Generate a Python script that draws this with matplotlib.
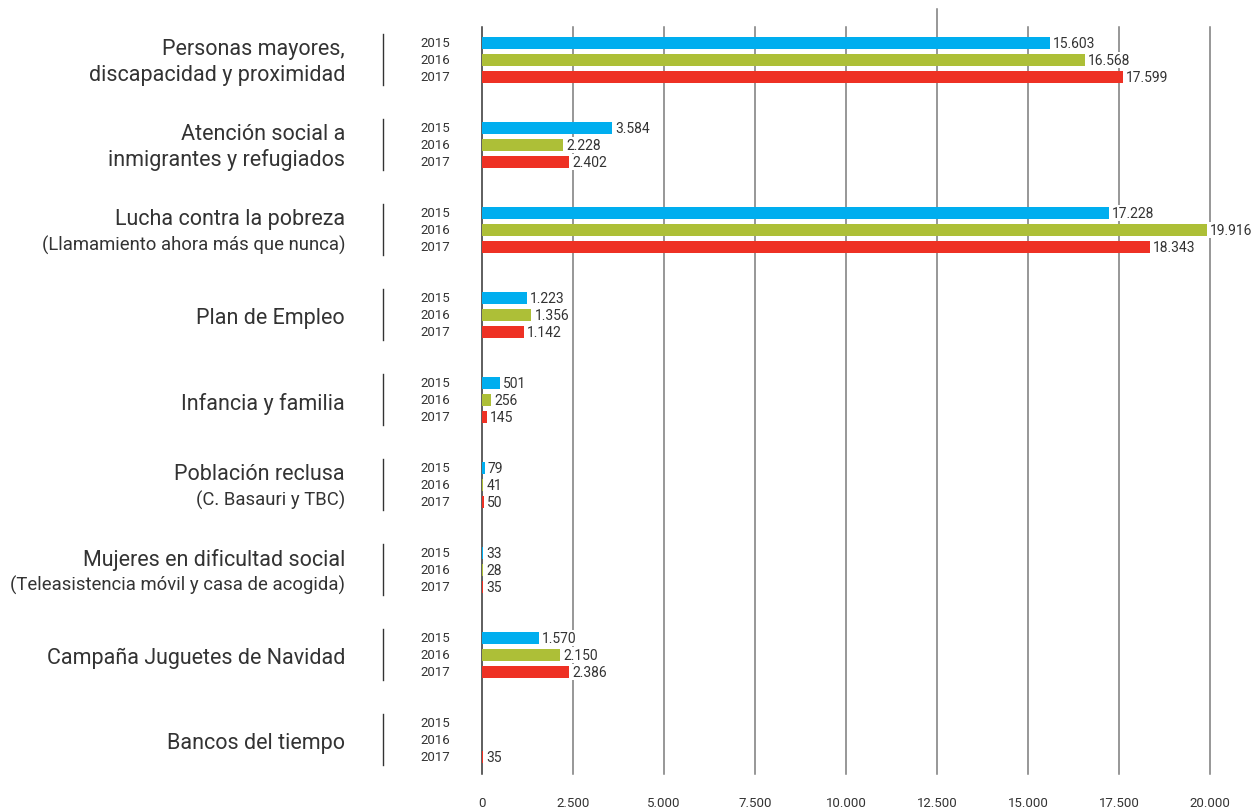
import matplotlib
matplotlib.use("Agg")
import matplotlib.pyplot as plt
import matplotlib.transforms as mtransforms
import numpy as np

plt.rcParams['font.family'] = ['Roboto', 'DejaVu Sans']

categories_main = ["Personas mayores,", "Atención social a", "Lucha contra la pobreza", "Plan de Empleo",
                   "Infancia y familia", "Población reclusa", "Mujeres en dificultad social",
                   "Campaña Juguetes de Navidad", "Bancos del tiempo"]
categories_sub = ["discapacidad y proximidad", "inmigrantes y refugiados",
                  "(Llamamiento ahora más que nunca)", None, None, "(C. Basauri y TBC)",
                  "(Teleasistencia móvil y casa de acogida)", None, None]
sub_big = [True, True, False, False, False, False, False, False, False]
years = ["2015", "2016", "2017"]
v2015 = [15603, 3584, 17228, 1223, 501, 79, 33, 1570, None]
v2016 = [16568, 2228, 19916, 1356, 256, 41, 28, 2150, None]
v2017 = [17599, 2402, 18343, 1142, 145, 50, 35, 2386, 35]
ticks = [0, 2500, 5000, 7500, 10000, 12500, 15000, 17500, 20000]
tick_labels = ["0", "2.500", "5.000", "7.500", "10.000", "12.500", "15.000", "17.500", "20.000"]
colors = ["#00AEEF", "#ADBF37", "#EE3124"]

W, H = 1259, 812
fig = plt.figure(figsize=(W / 100, H / 100), dpi=100)
ax = fig.add_axes([482 / W, 1 - 775 / H, (1210 - 482) / W, (775 - 28) / H])
ax.set_xlim(0, 20000)
ax.set_ylim(8.4, -0.388)
for s in ax.spines.values():
    s.set_visible(False)

txt = "#333333"
# gridlines
for t in ticks:
    col = "#333333" if t == 0 else "#7a7a7a"
    top = -0.6 if t == 12500 else -0.388
    ax.plot([t, t], [top, 8.4], color=col, lw=1.1, zorder=1, clip_on=False)

ax.set_xticks(ticks)
ax.set_xticklabels(tick_labels, fontsize=9.5, color=txt)
ax.tick_params(axis='x', length=0, pad=16)
ax.set_yticks([])

offs = [-0.2, 0.0, 0.2]
bh = 0.14
series = [v2015, v2016, v2017]
n = len(categories_main)
for j, vals in enumerate(series):
    for i, v in enumerate(vals):
        if v is None:
            continue
        y = i + offs[j]
        ax.barh(y, v, height=bh, color=colors[j], zorder=2, linewidth=0)
        lab = f"{v:,}".replace(",", ".")
        ax.annotate(lab, (v, y), xytext=(2.2, 0), textcoords="offset points",
                    va="center", ha="left", fontsize=10, color=txt, zorder=4,
                    bbox=dict(boxstyle="square,pad=0.05", fc="white", ec="none"))

trans = mtransforms.blended_transform_factory(fig.transFigure, ax.transData)
for i in range(n):
    for j, yr in enumerate(years):
        ax.text(450 / W, i + offs[j], yr, transform=trans, ha="right", va="center",
                fontsize=9.5, color=txt)
    ax.plot([383 / W, 383 / W], [i - 0.3, i + 0.3], transform=trans, color="#333333",
            lw=1.0, clip_on=False)
    if categories_sub[i] is None:
        ax.text(345 / W, i + 0.03, categories_main[i], transform=trans, ha="right",
                va="center", fontsize=15.5, color=txt)
    else:
        ax.text(345 / W, i - 0.13, categories_main[i], transform=trans, ha="right",
                va="center", fontsize=15.5, color=txt)
        ax.text(345 / W, i + 0.17, categories_sub[i], transform=trans, ha="right",
                va="center", fontsize=15.5 if sub_big[i] else 13.3, color=txt)

fig.savefig("out.png", dpi=100)
